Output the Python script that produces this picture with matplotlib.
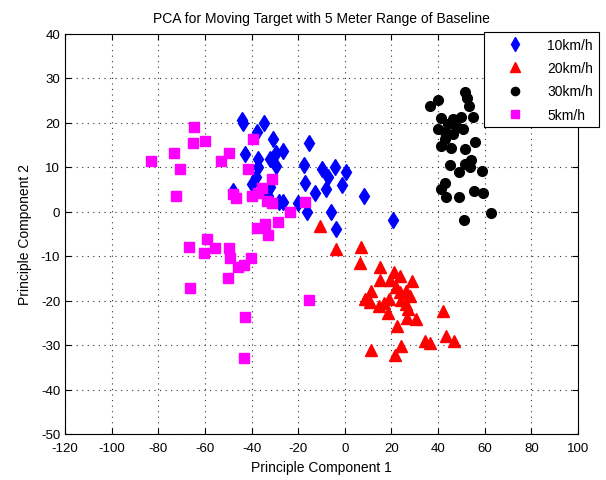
import matplotlib
matplotlib.use("Agg")
import matplotlib.pyplot as plt

# 10 km/h (blue diamonds)
x10 = [-44.3, -43.6, -34.6, -37.8, -31.0, -42.6, -37.1, -32.1, -29.7, -29.3, -37.4, -38.1,
       -40.0, -32.1, -47.9, -33.1, -28.2, -26.4, -15.4, -17.4, -9.7, -4.0, 0.3, -7.1,
       -16.9, -1.2, -8.1, -12.6, 8.1, -26.4, -20.0, -16.4, -6.0, -3.7, 20.7]
y10 = [20.6, 19.9, 19.9, 17.8, 16.3, 12.9, 11.8, 11.8, 13.1, 10.3, 9.9, 7.7,
       6.2, 5.4, 4.7, 3.4, 2.1, 13.7, 15.3, 10.5, 9.5, 9.9, 8.9, 7.8,
       6.3, 6.0, 5.1, 4.2, 3.4, 2.2, 1.8, -0.2, 0.0, -4.0, -2.0]

# 20 km/h (red triangles)
x20 = [-10.7, -3.9, 6.9, 6.4, 15.0, 21.1, 23.6, 15.3, 19.3, 28.6, 11.1, 23.6, 26.4, 8.6,
       19.0, 24.3, 10.7, 26.1, 14.7, 27.1, 18.6, 41.9, 26.7, 30.4, 22.4, 43.3, 46.9, 34.3,
       36.7, 23.9, 11.4, 21.7, 17.0, 22.0, 28.0]
y20 = [-3.2, -8.4, -7.9, -11.6, -12.4, -13.5, -14.6, -15.3, -15.5, -15.7, -17.8, -18.0, -17.8, -19.7,
       -19.7, -19.9, -20.4, -20.8, -21.3, -21.9, -22.9, -22.4, -24.0, -24.2, -25.7, -28.0, -29.1, -29.0,
       -29.6, -30.2, -31.1, -32.2, -20.5, -17.0, -19.0]

# 30 km/h (black circles)
x30 = [51.4, 40.0, 36.7, 53.3, 55.0, 41.4, 46.4, 50.0, 44.3, 47.9, 40.0, 50.7, 42.9, 46.4,
       42.9, 55.7, 41.4, 45.7, 51.4, 54.3, 45.3, 51.4, 49.0, 53.6, 59.0, 42.9, 41.4, 43.6,
       49.0, 55.4, 59.3, 62.9, 51.0, 52.5]
y30 = [26.8, 25.1, 23.8, 23.8, 21.2, 20.9, 20.8, 21.2, 19.7, 18.9, 18.5, 18.5, 17.8, 17.4,
       16.3, 15.6, 14.8, 14.3, 14.0, 11.6, 10.4, 10.7, 8.8, 9.9, 9.2, 6.3, 5.1, 3.2,
       3.2, 4.7, 4.2, -0.4, -1.9, 25.5]

# 5 km/h (magenta squares)
x5 = [-64.6, -65.0, -60.0, -73.2, -83.3, -49.7, -53.3, -70.7, -39.3, -41.7, -31.2, -72.6,
      -47.9, -46.7, -39.7, -35.7, -37.1, -33.3, -31.4, -34.4, -37.8, -28.6, -33.1, -66.9,
      -59.3, -55.7, -60.4, -49.7, -49.3, -45.7, -43.3, -40.1, -50.3, -66.4, -42.6, -43.3,
      -17.1, -15.3, -23.3]
y5 = [18.9, 15.3, 15.8, 13.1, 11.3, 13.1, 11.3, 9.5, 16.3, 9.5, 7.2, 3.4,
      3.9, 3.1, 3.4, 5.2, 4.1, 2.4, 1.8, -2.8, -3.6, -2.4, -5.3, -8.0,
      -6.2, -8.3, -9.4, -8.3, -10.5, -12.4, -12.0, -10.4, -14.9, -17.2, -23.6, -32.9,
      2.1, -19.8, 0.0]

xticks = list(range(-120, 101, 20))
yticks = list(range(-50, 41, 10))

plt.rcParams['font.family'] = ['Liberation Sans', 'DejaVu Sans']
plt.rcParams['axes.unicode_minus'] = False

fig = plt.figure(figsize=(6.06, 4.81), dpi=100)
ax = fig.add_axes([65/606, 1 - 435/481, (578-65)/606, (435-34.5)/481])

ax.plot(x10, y10, linestyle='none', marker='d', color='#0000ff', markersize=8.5, label='10km/h')
ax.plot(x20, y20, linestyle='none', marker='^', color='#ff0000', markersize=8, label='20km/h')
ax.plot(x30, y30, linestyle='none', marker='o', color='#000000', markersize=7, label='30km/h')
ax.plot(x5, y5, linestyle='none', marker='s', color='#ff00ff', markersize=7.5, label='5km/h')

ax.set_xlim(-120, 100)
ax.set_ylim(-50, 40)
ax.set_xticks(xticks)
ax.set_yticks(yticks)
ax.tick_params(direction='in', top=True, right=True, labelsize=9.5, length=4)
ax.tick_params(axis='x', pad=6)
ax.grid(True, linestyle=(0, (1, 4)), color='0.2', linewidth=0.8)
ax.set_axisbelow(True)
for s in ax.spines.values():
    s.set_linewidth(0.8)

ax.set_title('PCA for Moving Target with 5 Meter Range of Baseline', fontsize=10, pad=8)
ax.set_xlabel('Principle Component 1', fontsize=10, labelpad=4)
ax.set_ylabel('Principle Component 2', fontsize=10, labelpad=6)

leg = ax.legend(loc='upper left', bbox_to_anchor=(484/606, 1 - 33/481), bbox_transform=fig.transFigure,
                fontsize=10, frameon=True, fancybox=False, edgecolor='black', framealpha=1,
                borderpad=0.4, labelspacing=0.68, handlelength=3.6, handletextpad=0.55,
                borderaxespad=0, markerscale=0.85)
leg.get_frame().set_linewidth(0.8)

fig.savefig('out.png', dpi=100)
